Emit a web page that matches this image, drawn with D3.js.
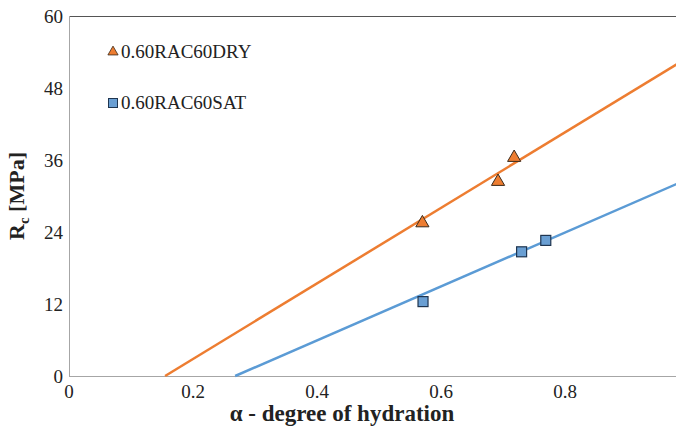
<!DOCTYPE html>
<html><head><meta charset="utf-8">
<script src="https://cdn.jsdelivr.net/npm/d3@7"></script>
<style>body{margin:0;background:#fff}svg{display:block}</style>
</head><body><svg id="c" width="676" height="431" font-family="'Liberation Serif', 'Times New Roman', Times, 'Nimbus Roman', 'DejaVu Serif', serif"></svg>
<script>
const xTicks = [0, 0.2, 0.4, 0.6, 0.8];
const yTicks = [0, 12, 24, 36, 48, 60];
const seriesNames = ["0.60RAC60DRY", "0.60RAC60SAT"];
const dryAlpha = [0.570, 0.692, 0.718];
const dryRc = [25.5, 32.4, 36.4];
const satAlpha = [0.571, 0.730, 0.769];
const satRc = [12.4, 20.7, 22.6];
// trend lines: [alpha, Rc] end points
const dryTrend = [[0.155, 0], [1.0, 53.2]];
const satTrend = [[0.268, 0], [1.0, 32.9]];

const svg = d3.select("#c");
const L = 69, R = 689, T = 16, B = 376;
const x = d3.scaleLinear().domain([0, 1]).range([L, R]);
const y = d3.scaleLinear().domain([0, 60]).range([B, T]);
const orange = "#ED7D31", blue = "#5B9BD5";

// frame
svg.append("line").attr("x1", L).attr("x2", 676).attr("y1", T + 0.5).attr("y2", T + 0.5).attr("stroke", "#555").attr("stroke-width", 1);
svg.append("line").attr("x1", L + 0.5).attr("x2", L + 0.5).attr("y1", T).attr("y2", B).attr("stroke", "#a6a6a6").attr("stroke-width", 1);
svg.append("line").attr("x1", L).attr("x2", 676).attr("y1", B + 0.5).attr("y2", B + 0.5).attr("stroke", "#a6a6a6").attr("stroke-width", 1);

// y tick labels
svg.append("g").selectAll("text").data(yTicks).join("text")
  .attr("x", L - 6).attr("y", d => y(d)).attr("dy", "0.35em")
  .attr("text-anchor", "end").attr("font-size", 19).attr("fill", "#222").text(d => d);
// x tick labels
svg.append("g").selectAll("text").data(xTicks).join("text")
  .attr("x", d => x(d)).attr("y", 398)
  .attr("text-anchor", "middle").attr("font-size", 19).attr("fill", "#222")
  .text(d => d === 0 ? "0" : d3.format(".1f")(d));

// trend lines
const line = d3.line().x(d => x(d[0])).y(d => y(d[1]));
svg.append("path").attr("d", line(dryTrend)).attr("fill", "none").attr("stroke", orange).attr("stroke-width", 2.5);
svg.append("path").attr("d", line(satTrend)).attr("fill", "none").attr("stroke", blue).attr("stroke-width", 2.5);

// markers
const tri = d3.symbol().type(d3.symbolTriangle).size(75);
const dry = dryAlpha.map((a, i) => [a, dryRc[i]]);
const sat = satAlpha.map((a, i) => [a, satRc[i]]);
svg.append("g").selectAll("path").data(dry).join("path")
  .attr("d", tri).attr("transform", d => `translate(${x(d[0])},${y(d[1])})`)
  .attr("fill", orange).attr("stroke", "#3a2a1a").attr("stroke-width", 1);
svg.append("g").selectAll("rect").data(sat).join("rect")
  .attr("x", d => x(d[0]) - 5).attr("y", d => y(d[1]) - 5).attr("width", 10).attr("height", 10)
  .attr("fill", "#6A9FD3").attr("stroke", "#1f3550").attr("stroke-width", 1.2);

// legend
const lg = svg.append("g");
lg.append("path").attr("d", d3.symbol().type(d3.symbolTriangle).size(45)).attr("transform", "translate(113,52)")
  .attr("fill", orange).attr("stroke", "#3a2a1a").attr("stroke-width", 0.8);
lg.append("text").attr("x", 121).attr("y", 58).attr("font-size", 19).attr("fill", "#222").text(seriesNames[0]);
lg.append("rect").attr("x", 108.5).attr("y", 98.5).attr("width", 9).attr("height", 9)
  .attr("fill", "#6A9FD3").attr("stroke", "#1f3550").attr("stroke-width", 1);
lg.append("text").attr("x", 121).attr("y", 109).attr("font-size", 19).attr("fill", "#222").text(seriesNames[1]);

// axis titles
svg.append("text").attr("x", 342).attr("y", 421).attr("text-anchor", "middle")
  .attr("font-size", 23).attr("font-weight", "bold").attr("fill", "#222")
  .text("α - degree of hydration");
const yt = svg.append("text").attr("transform", `translate(24,${(T + B) / 2}) rotate(-90)`)
  .attr("text-anchor", "middle").attr("font-size", 22).attr("font-weight", "bold").attr("fill", "#222");
yt.append("tspan").text("R");
yt.append("tspan").attr("font-size", 15).attr("dy", 5).text("c");
yt.append("tspan").attr("dy", -5).text(" [MPa]");
</script></body></html>
